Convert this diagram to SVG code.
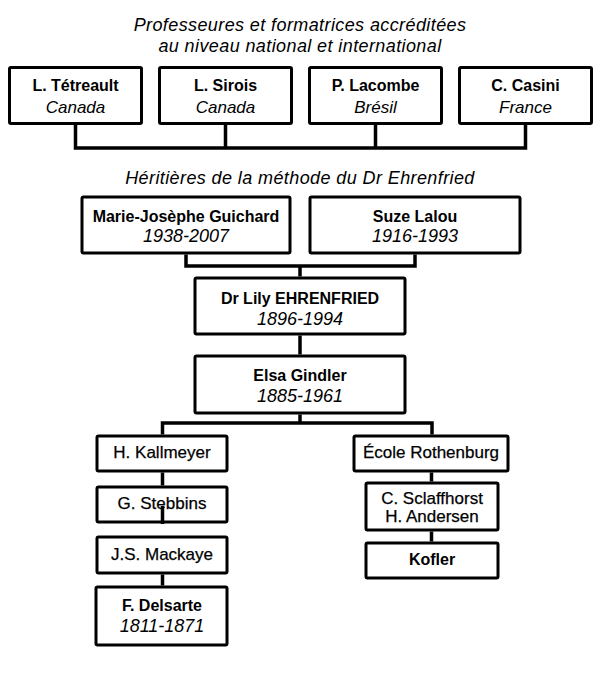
<svg xmlns="http://www.w3.org/2000/svg" width="600" height="700" viewBox="0 0 600 700">
<style>
.box{fill:#fff;stroke:#000;stroke-width:3;stroke-linejoin:round}
.ln{fill:none;stroke:#000;stroke-width:3.5}
text{font-family:"Liberation Sans",Arial,sans-serif;text-anchor:middle;fill:#000}
.h{font-style:italic;font-size:18px;letter-spacing:0.4px}
.b{font-weight:bold;font-size:16px}
.r{font-size:17px;stroke:#000;stroke-width:0.25}
.i{font-style:italic;font-size:17px}
.y{font-style:italic;font-size:18px}
</style>
<rect width="600" height="700" fill="#fff"/>
<text class="h" x="300" y="31">Professeures et formatrices accréditées</text>
<text class="h" x="300" y="52">au niveau national et international</text>
<text class="h" x="300" y="184">Héritières de la méthode du Dr Ehrenfried</text>
<g id="n-tetreault"><rect class="box" x="9.5" y="67.5" width="132" height="56" rx="1.5"/><text class="b" x="75.5" y="91">L. Tétreault</text><text class="i" x="75.5" y="113">Canada</text></g>
<g id="n-sirois"><rect class="box" x="159.5" y="67.5" width="132" height="56" rx="1.5"/><text class="b" x="225.5" y="91">L. Sirois</text><text class="i" x="225.5" y="113">Canada</text></g>
<g id="n-lacombe"><rect class="box" x="309.5" y="67.5" width="132" height="56" rx="1.5"/><text class="b" x="375.5" y="91">P. Lacombe</text><text class="i" x="375.5" y="113">Brésil</text></g>
<g id="n-casini"><rect class="box" x="459.5" y="67.5" width="132" height="56" rx="1.5"/><text class="b" x="525.5" y="91">C. Casini</text><text class="i" x="525.5" y="113">France</text></g>
<g id="n-guichard"><rect class="box" x="82" y="197" width="208" height="56" rx="1.5"/><text class="b" x="186" y="221.5">Marie-Josèphe Guichard</text><text class="y" x="186" y="242">1938-2007</text></g>
<g id="n-lalou"><rect class="box" x="310" y="197" width="210" height="56" rx="1.5"/><text class="b" x="415" y="221.5">Suze Lalou</text><text class="y" x="415" y="242">1916-1993</text></g>
<g id="n-ehrenfried"><rect class="box" x="195" y="278" width="210" height="56" rx="1.5"/><text class="b" x="300" y="303.5">Dr Lily EHRENFRIED</text><text class="y" x="300" y="324.5">1896-1994</text></g>
<g id="n-gindler"><rect class="box" x="195" y="356" width="210" height="57" rx="1.5"/><text class="b" x="300" y="381">Elsa Gindler</text><text class="y" x="300" y="402">1885-1961</text></g>
<g id="n-kallmeyer"><rect class="box" x="97" y="436" width="130" height="35" rx="1.5"/><text class="r" x="162" y="458">H. Kallmeyer</text></g>
<g id="n-stebbins"><rect class="box" x="97" y="487" width="130" height="35" rx="1.5"/><text class="r" x="162" y="508.5">G. Stebbins</text></g>
<g id="n-mackaye"><rect class="box" x="97" y="537" width="130" height="36" rx="1.5"/><text class="r" x="162" y="559.5">J.S. Mackaye</text></g>
<g id="n-delsarte"><rect class="box" x="96" y="587" width="131" height="58" rx="1.5"/><text class="b" x="162" y="611">F. Delsarte</text><text class="y" x="162" y="632">1811-1871</text></g>
<g id="n-rothenburg"><rect class="box" x="354" y="436" width="154" height="35" rx="1.5"/><text class="r" x="431" y="458">École Rothenburg</text></g>
<g id="n-sclaffhorst"><rect class="box" x="366" y="483" width="132" height="47" rx="1.5"/><text class="r" x="432" y="503.5">C. Sclaffhorst</text><text class="r" x="432" y="522">H. Andersen</text></g>
<g id="n-kofler"><rect class="box" x="366" y="543" width="132" height="35" rx="1.5"/><text class="b" x="432" y="565">Kofler</text></g>
<g id="connectors">
<path class="ln" d="M75.5 125V148M225.5 125V148M375.5 125V148M525.5 125V148M73.75 148H527.25"/>
<path class="ln" d="M186 254.5V266M415 254.5V266M184.25 266H416.75M300 266V276.5"/>
<path class="ln" d="M300 335.5V354.5"/>
<path class="ln" d="M300 414.5V423M160.75 423H433.75M162.5 421.5V434.5M432 421.5V434.5"/>
<path class="ln" d="M162.5 472.5V485.5M162.5 506V524M162.5 574.5V585.5"/>
<path class="ln" d="M431.5 472.5V481.5M431.5 531.5V541.5"/>
</g>
</svg>
